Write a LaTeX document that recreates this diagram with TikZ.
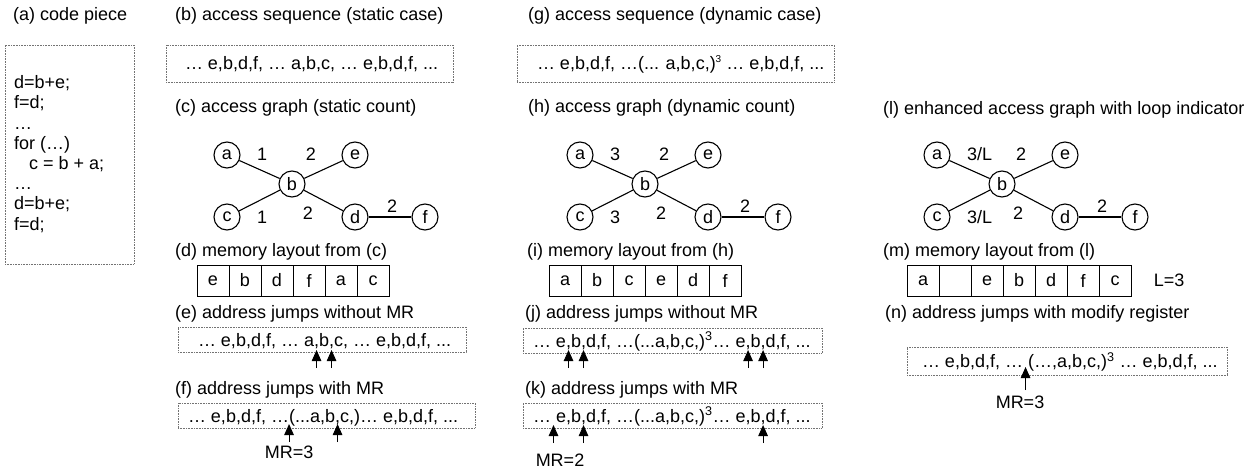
\documentclass[tikz,border=0pt]{standalone}
\usepackage{fontspec}
\setmainfont{Liberation Sans}
\usetikzlibrary{arrows.meta,calc}
\newcommand{\accgraph}[4]{%
\begin{scope}[xshift=#2pt]
\node[vnode] (#1a) at (227,155) {a};
\node[vnode] (#1e) at (355,155) {e};
\node[vnode] (#1b) at (292,184) {b};
\node[vnode] (#1c) at (227,217) {c};
\node[vnode] (#1d) at (355,217) {d};
\node[vnode] (#1f) at (425,217) {f};
\draw[edge] (#1a) -- (#1b);
\draw[edge] (#1e) -- (#1b);
\draw[edge] (#1c) -- (#1b);
\draw[edge] (#1d) -- (#1b);
\draw[edge] (#1d) -- (#1f);
\node[elabel, anchor=west] (#1lab) at (257,154) {#3};
\node[elabel] (#1lbe) at (311,154) {2};
\node[elabel, anchor=west] (#1lcb) at (257,217) {#4};
\node[elabel] (#1lbd) at (308,213) {2};
\node[elabel] (#1ldf) at (392,206) {2};
\end{scope}}
\begin{document}
\begin{tikzpicture}[x=1pt,y=-1pt,
  every node/.style={font=\fontsize{18}{22}\selectfont},
  title/.style={anchor=west, inner sep=0pt},
  dotbox/.style={draw=black!55, line width=0.7pt, dash pattern=on 0.7pt off 0.9pt, inner sep=0pt},
  vnode/.style={circle, draw, line width=1.1pt, minimum size=26pt, inner sep=0pt},
  edge/.style={line width=1.1pt},
  elabel/.style={inner sep=0pt},
  cell/.style={draw, line width=1pt, minimum width=32pt, minimum height=31pt, inner sep=0pt, outer sep=0pt, anchor=west},
  seg/.style={inner sep=0pt, outer sep=0pt, anchor=base west},
  jump/.style={line width=1pt, -{Triangle[width=9.5pt,length=11pt]}}]
\useasboundingbox (0,0) rectangle (1252,468);

% titles
\node[title] (ta) at (13,16) {(a) code piece};
\node[title] (tb) at (175,16) {(b) access sequence (static case)};
\node[title] (tg) at (528,16) {(g) access sequence (dynamic case)};
\node[title] (tc) at (175,108) {(c) access graph (static count)};
\node[title] (th) at (528,108) {(h) access graph (dynamic count)};
\node[title] (tl) at (883,110) {(l) enhanced access graph with loop indicator};
\node[title] (td) at (175,252) {(d) memory layout from (c)};
\node[title] (ti) at (527,252) {(i) memory layout from (h)};
\node[title] (tm) at (883,252) {(m) memory layout from (l)};
\node[title] (te) at (175,314) {(e) address jumps without MR};
\node[title] (tj) at (525,314) {(j) address jumps without MR};
\node[title] (tn) at (885,314) {(n) address jumps with modify register};
\node[title] (tf) at (175,390) {(f) address jumps with MR};
\node[title] (tk) at (525,390) {(k) address jumps with MR};

% code piece
\node[dotbox, minimum width=129pt, minimum height=219pt] (codebox) at (69.5,154.5) {};
\node[anchor=north west, inner sep=0pt, align=left, font=\fontsize{18}{20.2}\selectfont] (code) at (14,75.5)
  {d=b+e;\\f=d;\\…\\for (…)\\\hspace*{15pt}c = b + a;\\…\\d=b+e;\\f=d;};

% sequences
\node[dotbox, minimum width=287pt, minimum height=37pt] (bbox) at (309.5,63.5) {};
\node[seg] (bseq) at (185,70) {… e,b,d,f, … a,b,c, … e,b,d,f, ...};
\node[dotbox, minimum width=317pt, minimum height=37pt] (gbox) at (675.5,63.5) {};
\node[seg] (gseq) at (537,70) {… e,b,d,f, …(... a,b,c,)\raisebox{0.42em}{\fontsize{10}{10}\selectfont 3} … e,b,d,f, ...};

% graphs
\accgraph{gc}{0}{1}{1}
\accgraph{gh}{353}{3}{3}
\accgraph{gl}{710}{3/L}{3/L}

% memory layouts
\node[cell] (d1) at (197,280.5) {e};
\node[cell] (d2) at (d1.east) {b};
\node[cell] (d3) at (d2.east) {d};
\node[cell] (d4) at (d3.east) {f};
\node[cell] (d5) at (d4.east) {a};
\node[cell] (d6) at (d5.east) {c};
\node[cell] (i1) at (549,280.5) {a};
\node[cell] (i2) at (i1.east) {b};
\node[cell] (i3) at (i2.east) {c};
\node[cell] (i4) at (i3.east) {e};
\node[cell] (i5) at (i4.east) {d};
\node[cell] (i6) at (i5.east) {f};
\node[cell] (m1) at (907,280.5) {a};
\node[cell] (m2) at (m1.east) {};
\node[cell] (m3) at (m2.east) {e};
\node[cell] (m4) at (m3.east) {b};
\node[cell] (m5) at (m4.east) {d};
\node[cell] (m6) at (m5.east) {f};
\node[cell] (m7) at (m6.east) {c};
\node (lval) at (1169,280.5) {L=3};

% (e)
\node[dotbox, minimum width=288pt, minimum height=25pt] (ebox) at (322,339.5) {};
\node[seg] (e1) at (198,346) {… e,b,d,f, … a};
\node[seg] (e2) at (e1.base east) {,};
\node[seg] (e3) at (e2.base east) {b};
\node[seg] (e4) at (e3.base east) {,};
\node[seg] (e5) at (e4.base east) {c, … e,b,d,f, ...};
\coordinate (ea1) at (e2 |- 0,368);
\coordinate (ea2) at (e4 |- 0,368);
\draw[jump] (ea1) -- (e2 |- 0,350);
\draw[jump] (ea2) -- (e4 |- 0,350);

% (f)
\node[dotbox, minimum width=297pt, minimum height=25pt] (fbox) at (326.5,415.5) {};
\node[seg] (f1) at (188,422) {… e,b,d,f, …};
\node[seg] (f2) at (f1.base east) {(...a,b};
\node[seg] (f3) at (f2.base east) {,};
\node[seg] (f4) at (f3.base east) {c,)… e,b,d,f, ...};
\coordinate (fa1) at (f2.west |- 0,442);
\coordinate (fa2) at (f3 |- 0,442);
\draw[jump] (fa1) -- (f2.west |- 0,424);
\draw[jump] (fa2) -- (f3 |- 0,424);
\node (mrf) at (fa1 |- 0,452) {MR=3};

% (j)
\node[dotbox, minimum width=299pt, minimum height=25pt] (jbox) at (672.5,340.5) {};
\node[seg] (j1) at (533,347) {… e};
\node[seg] (j2) at (j1.base east) {,};
\node[seg] (j3) at (j2.base east) {b};
\node[seg] (j4) at (j3.base east) {,};
\node[seg] (j5) at (j4.base east) {d,f, …(...a,b,c,)\textsuperscript{3}… e};
\node[seg] (j6) at (j5.base east) {,};
\node[seg] (j7) at (j6.base east) {b};
\node[seg] (j8) at (j7.base east) {,};
\node[seg] (j9) at (j8.base east) {d,f, ...};
\foreach \s in {2,4,6,8}{
  \coordinate (ja\s) at (j\s |- 0,368);
  \draw[jump] (ja\s) -- (j\s |- 0,350);
}

% (k)
\node[dotbox, minimum width=299pt, minimum height=25pt] (kbox) at (672.5,415.5) {};
\node[seg] (k1) at (533,422) {…};
\node[seg] (k2) at ([xshift=5pt]k1.base east) {e};
\node[seg] (k3) at (k2.base east) {,};
\node[seg] (k4) at (k3.base east) {b};
\node[seg] (k5) at (k4.base east) {,};
\node[seg] (k6) at (k5.base east) {d,f, …(...a,b,c,)\textsuperscript{3}… e,b};
\node[seg] (k7) at (k6.base east) {,};
\node[seg] (k8) at (k7.base east) {d,f, ...};
\coordinate (kmid) at ($(k1.east)!0.5!(k2.west)$);
\coordinate (ka1) at (kmid |- 0,443);
\coordinate (ka2) at (k5 |- 0,443);
\coordinate (ka3) at (k7 |- 0,443);
\draw[jump] (ka1) -- (kmid |- 0,425);
\draw[jump] (ka2) -- (k5 |- 0,425);
\draw[jump] (ka3) -- (k7 |- 0,425);
\node (mrk) at (560,460) {MR=2};

% (n)
\node[dotbox, minimum width=320pt, minimum height=28pt] (nbox) at (1067,361) {};
\node[seg] (n1) at (922,367.5) {… e,b,d,f, …};
\node[seg] (n2) at ([xshift=5pt]n1.base east) {(…,a,b,c,)\textsuperscript{3} … e,b,d,f, ...};
\coordinate (nmid) at ($(n1.east)!0.5!(n2.west)$);
\coordinate (na1) at (nmid |- 0,390);
\draw[jump] (na1) -- (nmid |- 0,367);
\node (mrn) at (1020,402) {MR=3};
\end{tikzpicture}
\end{document}
